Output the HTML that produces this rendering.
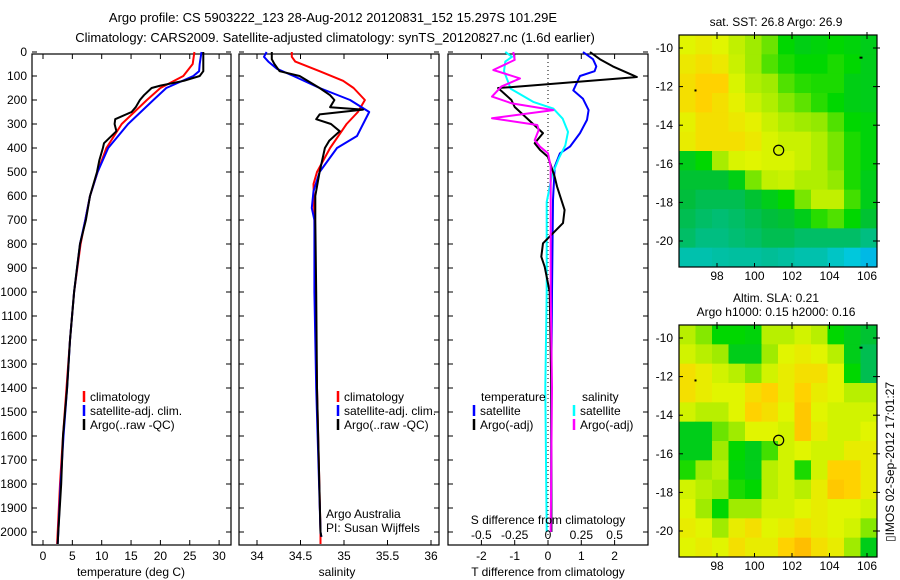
<!DOCTYPE html>
<html><head><meta charset="utf-8"><style>
html,body{margin:0;padding:0;background:#fff;}
svg{display:block;font-family:"Liberation Sans",sans-serif;}
text{fill:#000;}
</style></head><body>
<svg id="fig" width="900" height="580" viewBox="0 0 900 580">
<text x="333" y="22" font-size="13" text-anchor="middle">Argo profile: CS 5903222_123 28-Aug-2012 20120831_152 15.297S 101.29E</text>
<text x="335" y="42" font-size="13" text-anchor="middle">Climatology: CARS2009. Satellite-adjusted climatology: synTS_20120827.nc (1.6d earlier)</text>
<text x="776" y="26" font-size="12" text-anchor="middle">sat. SST: 26.8 Argo: 26.9</text>
<text x="776" y="302" font-size="12" text-anchor="middle">Altim. SLA: 0.21</text>
<text x="776" y="316" font-size="12" text-anchor="middle">Argo h1000: 0.15 h2000: 0.16</text>
<text transform="translate(894,462) rotate(-90)" font-size="12" text-anchor="middle">▯IMOS 02-Sep-2012 17:01:27</text>
</svg>
<script>
// ---------- data ----------
const depthTicks=[0,100,200,300,400,500,600,700,800,900,1000,1100,1200,1300,1400,1500,1600,1700,1800,1900,2000];
const tempTicks=[0,5,10,15,20,25,30];
const salTicks=[34,34.5,35,35.5,36];
const tdiffTicks=[-2,-1,0,1,2];
const sdiffTickLabels=["-0.5","-0.25","0","0.25","0.5"];
const sdiffTicks=[-0.5,-0.25,0,0.25,0.5];

const tClimDepth=[0,50,100,150,200,300,400,500,600,700,800,1000,1200,1400,1600,1800,2000,2050];
const tClim=[25.8,25.5,23.9,20,17.7,13.4,10.8,9.3,8.0,7.2,6.4,5.3,4.6,4.0,3.4,2.9,2.5,2.4];
const tSatDepth=[0,50,80,100,150,200,300,400,500,600,700,800,1000,1200,1400,1600,1800,2000,2050];
const tSat=[27.0,26.7,26.6,25.6,21,18.8,14.5,11.1,9.3,8.0,7.2,6.3,5.3,4.6,4.1,3.5,3.0,2.6,2.5];
const tArgoDepth=[0,80,100,120,140,150,180,200,230,250,280,300,330,380,400,450,500,600,700,800,900,1000,1200,1400,1600,1800,2000,2050];
const tArgo=[27.3,27.3,26.7,24,20,18.5,17.2,16.5,15.8,15.1,12.3,12.2,12.5,10.4,10.2,9.6,9.2,8.0,7.3,6.3,5.8,5.3,4.6,4.1,3.4,3.1,2.6,2.5];

const sClimDepth=[0,20,40,80,120,150,200,250,300,400,500,550,700,1000,1400,2000,2050];
const sClim=[34.40,34.40,34.44,34.72,34.99,35.11,35.24,35.16,35.03,34.84,34.69,34.65,34.66,34.67,34.69,34.73,34.73];
const sSatDepth=[0,20,40,70,100,150,200,250,300,350,400,500,580,650,700,1000,1400,2000,2020];
const sSat=[34.11,34.08,34.13,34.23,34.42,34.72,35.07,35.29,35.22,35.15,34.92,34.72,34.65,34.63,34.66,34.66,34.68,34.73,34.74];
const sArgoDepth=[0,30,50,80,100,150,180,200,230,240,260,280,300,330,370,400,500,600,700,1000,1400,2000,2020];
const sArgo=[34.17,34.17,34.2,34.26,34.49,34.72,34.84,34.89,34.84,35.22,34.72,34.68,34.85,34.95,34.83,34.78,34.72,34.67,34.67,34.68,34.69,34.73,34.74];

const dTArgoDepth=[0,30,60,104,146,150,200,229,338,380,408,437,520,560,658,713,755,797,853,895,1000,1400,2000];
const dTArgo=[1.26,1.56,1.95,2.67,-1.05,-1.5,-1.1,-1.0,-0.15,-0.4,-0.24,0,0.2,0.27,0.5,0.45,0.15,-0.15,-0.2,-0.1,0.05,0.1,0.1];
const dTSatDepth=[0,30,60,80,100,160,195,242,283,338,394,422,478,617,1000,1400,2000];
const dTSat=[1.05,1.35,1.45,1.4,0.96,0.76,1.05,1.22,1.17,0.96,0.66,0.36,0.2,0.15,0.12,0.1,0.1];
const dSSatDepth=[0,20,40,80,153,208,236,278,333,389,444,514,625,1000,1400,2000];
const dSSat=[-0.32,-0.27,-0.32,-0.33,-0.28,-0.11,0.04,0.11,0.15,0.13,0.08,0.03,-0.01,-0.01,-0.02,-0.01];
const dSArgoDepth=[0,33,75,110,144,186,214,242,276,304,325,367,394,422,478,700,1000,1400,2000];
const dSArgo=[-0.26,-0.25,-0.41,-0.21,-0.35,-0.42,-0.27,0.04,-0.42,-0.08,-0.07,-0.1,-0.06,0,0.02,0.02,0.02,0.03,0.02];

const mapLatTicks=[-10,-12,-14,-16,-18,-20];
const mapLonTicks=[98,100,102,104,106];
const sstGrid=[
[0.8,0.82,0.8,0.76,0.72,0.68,0.6,0.56,0.58,0.6,0.58,0.55],
[0.83,0.85,0.83,0.77,0.72,0.66,0.62,0.6,0.6,0.62,0.6,0.55],
[0.85,0.88,0.88,0.79,0.74,0.72,0.66,0.63,0.62,0.62,0.56,0.55],
[0.85,0.88,0.85,0.81,0.77,0.74,0.7,0.67,0.63,0.6,0.56,0.55],
[0.81,0.85,0.85,0.83,0.81,0.77,0.74,0.72,0.71,0.66,0.6,0.58],
[0.82,0.85,0.85,0.85,0.83,0.79,0.77,0.77,0.74,0.69,0.62,0.58],
[0.55,0.6,0.73,0.79,0.8,0.79,0.79,0.77,0.74,0.69,0.62,0.58],
[0.5,0.5,0.5,0.56,0.69,0.76,0.77,0.74,0.74,0.71,0.62,0.55],
[0.48,0.45,0.45,0.45,0.5,0.55,0.6,0.69,0.76,0.76,0.65,0.55],
[0.45,0.42,0.4,0.42,0.45,0.48,0.5,0.55,0.63,0.66,0.6,0.5],
[0.42,0.38,0.38,0.4,0.42,0.45,0.45,0.42,0.42,0.42,0.42,0.38],
[0.3,0.3,0.32,0.33,0.33,0.35,0.33,0.3,0.3,0.25,0.2,0.15]];
const slaGrid=[
[0.75,0.7,0.6,0.6,0.58,0.75,0.75,0.78,0.75,0.6,0.55,0.5],
[0.78,0.75,0.72,0.55,0.55,0.72,0.8,0.82,0.8,0.75,0.55,0.45],
[0.85,0.82,0.78,0.75,0.7,0.78,0.82,0.85,0.85,0.8,0.6,0.45],
[0.85,0.82,0.8,0.8,0.85,0.88,0.82,0.88,0.82,0.8,0.75,0.75],
[0.78,0.75,0.75,0.8,0.88,0.85,0.8,0.9,0.8,0.78,0.78,0.78],
[0.55,0.55,0.68,0.72,0.8,0.8,0.78,0.9,0.82,0.78,0.78,0.8],
[0.55,0.55,0.72,0.6,0.55,0.65,0.78,0.8,0.78,0.78,0.82,0.82],
[0.62,0.72,0.75,0.58,0.55,0.75,0.78,0.62,0.78,0.88,0.88,0.82],
[0.78,0.75,0.72,0.62,0.6,0.75,0.78,0.75,0.82,0.9,0.88,0.82],
[0.8,0.72,0.6,0.72,0.72,0.78,0.78,0.8,0.82,0.8,0.8,0.78],
[0.82,0.8,0.72,0.82,0.85,0.8,0.82,0.85,0.82,0.8,0.78,0.7],
[0.8,0.82,0.8,0.85,0.82,0.82,0.88,0.92,0.85,0.82,0.72,0.55]];
const argoLon=[101.29];
const argoLat=[-15.297];

// ---------- drawing ----------
const NS='http://www.w3.org/2000/svg';
const svg=document.getElementById('fig');
function mk(tag,attrs,parent){const e=document.createElementNS(NS,tag);for(const k in attrs)e.setAttribute(k,attrs[k]);(parent||svg).appendChild(e);return e;}
const yD=d=>52+d*0.24;
const PT=54,PB=545;

function axisBox(x0,x1,name){
 const r=mk('rect',{x:x0,y:PT,width:x1-x0,height:PB-PT,fill:'none',stroke:'#000','stroke-width':1.2});
 
 
 depthTicks.forEach(d=>{
  const t1=mk('line',{x1:x0,x2:x0+5,y1:yD(d),y2:yD(d),stroke:'#000'});
  
  
  const t2=mk('line',{x1:x1-5,x2:x1,y1:yD(d),y2:yD(d),stroke:'#000'});
  
  
 });
}
function xticks(vals,fx,labels,name){
 vals.forEach((v,i)=>{
  const x=fx(v);
  const a=mk('line',{x1:x,x2:x,y1:PB,y2:PB-5,stroke:'#000'});
  
  
  const b=mk('line',{x1:x,x2:x,y1:PT,y2:PT+5,stroke:'#000'});
  
  
  const t=mk('text',{x:x,y:560,'font-size':12,'text-anchor':'middle'});
  t.textContent=labels[i];
  
  
 });
}
function series(ds,vs,fx,color,w,name){
 const pts=ds.map((d,i)=>fx(vs[i]).toFixed(1)+','+yD(d).toFixed(1)).join(' ');
 const p=mk('polyline',{points:pts,fill:'none',stroke:color,'stroke-width':w,'stroke-linejoin':'round'});
 
 
}
function legend(x,y,color,label,name){
 const l=mk('line',{x1:x,x2:x,y1:y-10,y2:y+1,stroke:color,'stroke-width':2.5});
 
 
 const t=mk('text',{x:x+6,y:y,'font-size':12});
 t.textContent=label;
 
 
}
function txt(x,y,s,name,anchor){const t=mk('text',{x:x,y:y,'font-size':12,'text-anchor':anchor||'start'});t.textContent=s;return t;}

// panel 1 temperature
const fT=v=>43+v*5.87;
axisBox(32,231,'temperature-axes');
depthTicks.forEach(d=>{const t=txt(27,yD(d)+4,String(d),'depth-tick-label','end');});
xticks(tempTicks,fT,tempTicks.map(String),'temperature');
series(tClimDepth,tClim,fT,'#f00',2,'temperature-climatology-line');
series(tSatDepth,tSat,fT,'#00f',2,'temperature-satellite-line');
series(tArgoDepth,tArgo,fT,'#000',2,'temperature-argo-line');
legend(84,401,'#f00','climatology','temp-legend-climatology');
legend(84,415,'#00f','satellite-adj. clim.','temp-legend-satellite');
legend(84,429,'#000','Argo(..raw -QC)','temp-legend-argo');
txt(131,576,'temperature (deg C)','temperature-axis-title','middle');

// panel 2 salinity
const fS=v=>257+(v-34)*87;
axisBox(239,439,'salinity-axes');
xticks(salTicks,fS,salTicks.map(String),'salinity');
series(sClimDepth,sClim,fS,'#f00',2,'salinity-climatology-line');
series(sSatDepth,sSat,fS,'#00f',2,'salinity-satellite-line');
series(sArgoDepth,sArgo,fS,'#000',2,'salinity-argo-line');
legend(338,401,'#f00','climatology','sal-legend-climatology');
legend(338,415,'#00f','satellite-adj. clim.','sal-legend-satellite');
legend(338,429,'#000','Argo(..raw -QC)','sal-legend-argo');
txt(326,518,'Argo Australia','argo-australia-label');
txt(326,532,'PI: Susan Wijffels','pi-label');
txt(337,576,'salinity','salinity-axis-title','middle');

// panel 3 differences
const fDT=v=>548+v*33.3;
const fDS=v=>548+v*133.3;
axisBox(448,648,'difference-axes');
const zl=mk('line',{x1:548,x2:548,y1:PT,y2:PB,stroke:'#000','stroke-dasharray':'1,3'});


xticks(tdiffTicks,fDT,tdiffTicks.map(String),'tdiff');
series(dTSatDepth,dTSat,fDT,'#00f',2,'tdiff-satellite-line');
series(dSSatDepth,dSSat,fDS,'#0ff',2,'sdiff-satellite-line');
series(dTArgoDepth,dTArgo,fDT,'#000',2,'tdiff-argo-line');
series(dSArgoDepth,dSArgo,fDS,'#f0f',2,'sdiff-argo-line');
txt(481,401,'temperature','tdiff-legend-title');
legend(474,415,'#00f','satellite','tdiff-legend-satellite');
legend(474,429,'#000','Argo(-adj)','tdiff-legend-argo');
txt(582,401,'salinity','sdiff-legend-title');
legend(574,415,'#0ff','satellite','sdiff-legend-satellite');
legend(574,429,'#f0f','Argo(-adj)','sdiff-legend-argo');
txt(548,524,'S difference from climatology','sdiff-axis-title','middle');
sdiffTicks.forEach((v,i)=>txt(fDS(v),539,sdiffTickLabels[i],'sdiff-tick-label','middle'));
txt(548,576,'T difference from climatology','tdiff-axis-title','middle');

// maps
const stops=[[0,[0,140,255]],[0.2,[0,200,220]],[0.35,[0,190,150]],[0.48,[0,190,60]],[0.6,[0,215,0]],[0.72,[160,235,0]],[0.8,[225,245,0]],[0.88,[255,210,0]],[1,[255,150,0]]];
function cmap(v){for(let i=1;i<stops.length;i++){if(v<=stops[i][0]){const a=stops[i-1],b=stops[i];const t=(v-a[0])/(b[0]-a[0]);const c=a[1].map((x,k)=>Math.round(x+(b[1][k]-x)*t));return 'rgb('+c.join(',')+')';}}return 'rgb(255,150,0)';}
function drawMap(grid,top,bottom,latRef,name){
 const x0=679,x1=877,lonPx=18.75,lon0=717-98*lonPx;
 const fx=lon=>lon0+lon*lonPx;
 const rows=grid.length,cols=grid[0].length;
 const cw=(x1-x0)/cols,ch=(bottom-top)/rows;
 grid.forEach((row,r)=>row.forEach((v,c)=>{
  const cell=mk('rect',{x:x0+c*cw,y:top+r*ch,width:cw+0.5,height:ch+0.5,fill:cmap(v)});
  
  
 }));
 const b=mk('rect',{x:x0,y:top,width:x1-x0,height:bottom-top,fill:'none',stroke:'#000','stroke-width':1.2});
 
 
 const latScale=(bottom-top)*193/232/10;
 mapLatTicks.forEach(lat=>{
  const y=latRef+(-10-lat)*latScale;
  const l=mk('line',{x1:x0,x2:x0+4,y1:y,y2:y,stroke:'#000'});
  
  
  const l2=mk('line',{x1:x1-4,x2:x1+3,y1:y,y2:y,stroke:'#000'});
  
  
  txt(673,y+4,String(lat),name+'-lat-label','end');
 });
 mapLonTicks.forEach(lon=>{
  const x=fx(lon);
  const l=mk('line',{x1:x,x2:x,y1:bottom,y2:bottom-4,stroke:'#000'});
  
  
  const l2=mk('line',{x1:x,x2:x,y1:top-3,y2:top+4,stroke:'#000'});
  
  
  txt(x,bottom+13,String(lon),name+'-lon-label','middle');
 });
 const cx=fx(argoLon[0]),cy=latRef+(-10-argoLat[0])*latScale;
 const c=mk('circle',{cx:cx,cy:cy,r:5,fill:'none',stroke:'#000','stroke-width':1.2});
 
 
 const d1=mk('rect',{x:fx(96.8),y:latRef+2.2*latScale-1,width:2,height:2,fill:'#000'});
 
 
 const d2=mk('rect',{x:fx(105.6),y:latRef+0.5*latScale-1,width:3,height:2,fill:'#000'});
 
 
}
drawMap(sstGrid,35,267,48,'sst-map');
drawMap(slaGrid,325,557,338,'sla-map');
</script>
</body></html>
